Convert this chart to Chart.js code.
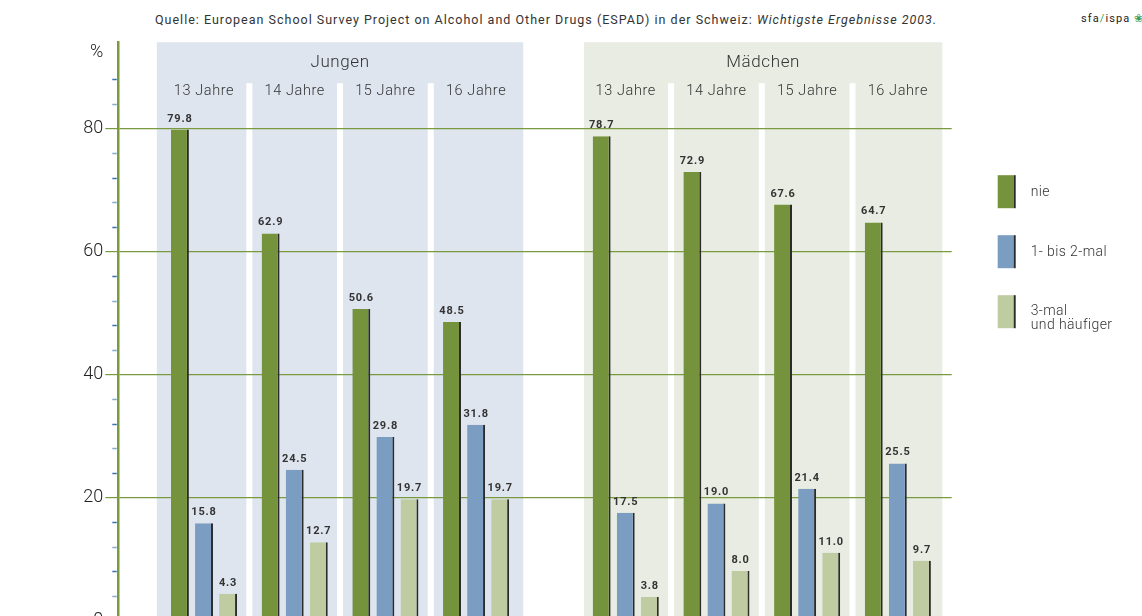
<!DOCTYPE html>
<html>
<head>
<meta charset="utf-8">
<script src="https://cdn.jsdelivr.net/npm/chart.js@4"></script>
<style>
  body { margin: 0; overflow: hidden; background: #fff; font-family: Roboto, sans-serif; }
  #source { position: absolute; left: 155px; top: 12px; font-size: 12.5px; color: #333; letter-spacing: 1px; white-space: nowrap; }
  #logo { position: absolute; left: 1081px; top: 12px; font-size: 11px; color: #222; letter-spacing: 1.1px; white-space: nowrap; }
  #logo b { color: #3aa05a; font-weight: normal; }
  #wrap { position: absolute; left: 0; top: 0; width: 1142px; height: 660px; }
</style>
</head>
<body>
<div id="source">Quelle: European School Survey Project on Alcohol and Other Drugs (ESPAD) in der Schweiz: <i>Wichtigste Ergebnisse 2003.</i></div>
<div id="logo">sfa<b>/</b>ispa <b>&#10048;</b></div>
<div id="wrap"><canvas id="myChart"></canvas></div>
<script>
let groups = ['Jungen', 'Mädchen'];
let ages = ['13 Jahre', '14 Jahre', '15 Jahre', '16 Jahre'];
let seriesNames = [['nie'], ['1- bis 2-mal'], ['3-mal', 'und häufiger']];
let nie = [79.8, 62.9, 50.6, 48.5, 78.7, 72.9, 67.6, 64.7];
let einZwei = [15.8, 24.5, 29.8, 31.8, 17.5, 19.0, 21.4, 25.5];
let dreiPlus = [4.3, 12.7, 19.7, 19.7, 3.8, 8.0, 11.0, 9.7];

let GAP = 0.65;
let colors = ['#75923d', '#7c9dc2', '#bfcba1'];
let panelColors = ['#dfe5ef', '#e9ece3'];
let panelPad = [[0.52, 0.52], [0.46, 0.49]];
let green = '#7a9a3f';

function xPos(i) {
  return i + (i >= ages.length ? GAP : 0);
}

function toPoints(values) {
  return values.map((v, i) => ({ x: xPos(i), y: v }));
}

let panelsPlugin = {
  id: 'panels',
  beforeDraw(chart) {
    let ctx = chart.ctx;
    let xs = chart.scales.x;
    let area = chart.chartArea;
    let unit = xs.getPixelForValue(1) - xs.getPixelForValue(0);
    ctx.save();
    groups.forEach((g, gi) => {
      let first = xPos(gi * ages.length);
      let last = xPos(gi * ages.length + ages.length - 1);
      let left = xs.getPixelForValue(first) - unit * panelPad[gi][0];
      let right = xs.getPixelForValue(last) + unit * panelPad[gi][1];
      ctx.fillStyle = panelColors[gi];
      ctx.fillRect(left, area.top, right - left, chart.height - area.top);
      ctx.fillStyle = '#fff';
      for (let k = 0; k < ages.length - 1; k++) {
        let sx = xs.getPixelForValue(first + k + 0.5);
        ctx.fillRect(sx - 3, area.top + 41, 6, chart.height);
      }
      ctx.fillStyle = '#333';
      ctx.textAlign = 'center';
      ctx.textBaseline = 'middle';
      ctx.letterSpacing = '0.6px';
      ctx.font = '300 17px Roboto';
      ctx.fillText(g, (left + right) / 2, area.top + 21);
      ctx.font = '300 14.5px Roboto';
      ages.forEach((a, k) => {
        ctx.fillText(a, xs.getPixelForValue(first + k), area.top + 49);
      });
    });
    ctx.restore();
  },
  afterDraw(chart) {
    let ctx = chart.ctx;
    let ys = chart.scales.y;
    let area = chart.chartArea;
    ctx.save();
    for (let v = 4; v < 92; v += 4) {
      if (v % 20 === 0) continue;
      let py = Math.round(ys.getPixelForValue(v)) + 0.5;
      ctx.strokeStyle = v % 8 === 0 ? '#3c73ad' : '#86aacd';
      ctx.lineWidth = 1.5;
      ctx.beginPath();
      ctx.moveTo(area.left - 6, py);
      ctx.lineTo(area.left - 1.5, py);
      ctx.stroke();
    }
    ctx.fillStyle = '#222';
    ctx.font = '300 18px Roboto';
    ctx.textAlign = 'right';
    ctx.textBaseline = 'middle';
    ctx.fillText('%', area.left - 15, area.top + 10);

    // value labels
    ctx.font = 'bold 11px Roboto';
    ctx.letterSpacing = '0.8px';
    ctx.fillStyle = '#333';
    ctx.textAlign = 'center';
    ctx.textBaseline = 'alphabetic';
    chart.data.datasets.forEach((ds, di) => {
      chart.getDatasetMeta(di).data.forEach((bar, i) => {
        ctx.fillText(ds.data[i].y.toFixed(1), bar.x, bar.y - 8);
      });
    });

    // legend
    ctx.letterSpacing = '0.4px';
    ctx.font = '300 14px Roboto';
    ctx.textAlign = 'left';
    ctx.textBaseline = 'middle';
    chart.data.datasets.forEach((ds, di) => {
      let lx = area.right + 46;
      let ly = area.top + 133 + di * 60;
      ctx.fillStyle = ds.backgroundColor;
      ctx.fillRect(lx, ly, 16, 33);
      ctx.fillStyle = '#2b2b2b';
      ctx.fillRect(lx + 16, ly, 2, 33);
      ctx.fillStyle = '#333';
      let lines = seriesNames[di];
      if (lines.length === 1) {
        ctx.fillText(lines[0], lx + 33, ly + 17);
      } else {
        lines.forEach((t, li) => ctx.fillText(t, lx + 33, ly + 16 + li * 14));
      }
    });
    ctx.restore();
  }
};

let ctxChart = document.getElementById('myChart');
let myChart = new Chart(ctxChart, {
  type: 'bar',
  data: {
    datasets: [
      { label: seriesNames[0].join(' '), data: toPoints(nie), backgroundColor: colors[0] },
      { label: seriesNames[1].join(' '), data: toPoints(einZwei), backgroundColor: colors[1] },
      { label: seriesNames[2].join(' '), data: toPoints(dreiPlus), backgroundColor: colors[2] }
    ]
  },
  options: {
    responsive: true,
    maintainAspectRatio: false,
    animation: false,
    categoryPercentage: 0.843,
    barPercentage: 0.745,
    borderColor: '#2b2b2b',
    borderWidth: { left: 0, right: 2, top: 0, bottom: 0 },
    borderSkipped: false,
    layout: { padding: { top: 42.2, right: 190.3, bottom: 39.7, left: 0 } },
    plugins: {
      legend: { display: false },
      tooltip: { enabled: false }
    },
    scales: {
      x: {
        type: 'linear',
        display: false,
        min: -0.945,
        max: 8.244,
        offset: false
      },
      y: {
        min: 0,
        max: 94,
        afterFit(scale) { scale.width = 118.3; },
        ticks: {
          stepSize: 20,
          includeBounds: false,
          padding: 2,
          color: '#222',
          font: { family: 'Roboto', size: 18, weight: '300' }
        },
        grid: {
          color: green,
          lineWidth: 1.2,
          tickLength: 13,
          tickColor: green
        },
        border: { color: green, width: 2.5 }
      }
    }
  },
  plugins: [panelsPlugin]
});
</script>
</body>
</html>
